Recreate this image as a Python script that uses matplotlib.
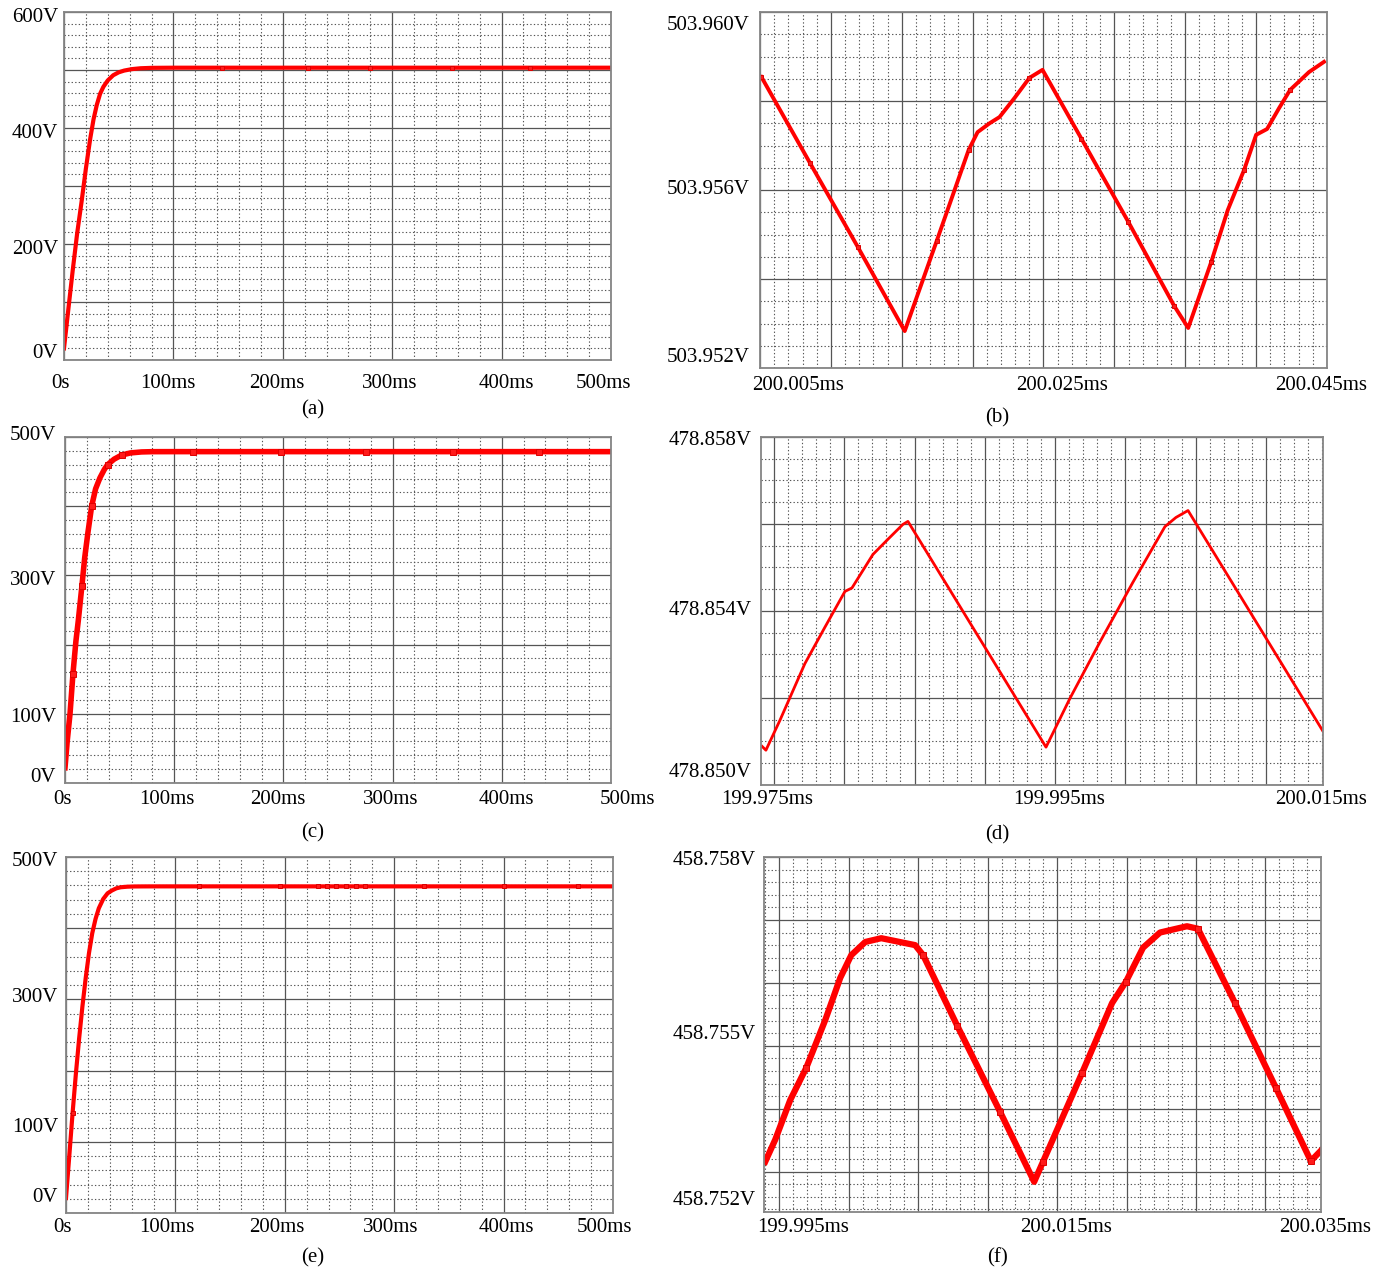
import matplotlib
matplotlib.use("Agg")
import matplotlib.pyplot as plt
import matplotlib.transforms as mtrans
from matplotlib.ticker import MultipleLocator

plt.rcParams['font.family'] = ['Liberation Serif', 'DejaVu Serif']

W, H = 1373, 1269

# ---- (a) start-up, 0..500 ms ----
a_t = [0, 4, 8, 12, 16, 20, 24, 27, 30, 33, 36, 40, 45, 50, 55, 62, 70, 80, 100,
       144, 223, 280, 355, 426, 500]
a_v = [20, 88, 155, 218, 272, 330, 382, 415, 440, 459, 471, 482, 491, 496, 499, 501.5,
       503, 503.7, 503.96, 503.96, 503.96, 503.96, 503.96, 503.96, 503.96]
a_mark = [144, 223, 280, 355, 426]

# ---- (b) ripple zoom ----
b_t = [200.0051, 200.00852, 200.0119, 200.01521, 200.01746, 200.01972, 200.02035,
       200.0212, 200.0219, 200.02296, 200.02401, 200.02493, 200.02768, 200.03099,
       200.03423, 200.03521, 200.03683, 200.0380, 200.03915, 200.0400, 200.04077,
       200.04162, 200.0424, 200.04373, 200.04479]
b_v = [503.95854, 503.95661, 503.95472, 503.95283, 503.95485, 503.95690, 503.95730,
       503.95750, 503.95764, 503.95807, 503.95852, 503.95870, 503.95715, 503.95528,
       503.95339, 503.95290, 503.95438, 503.95555, 503.95645, 503.95724, 503.95737,
       503.95784, 503.95825, 503.95865, 503.95888]
b_mark = [200.0051, 200.00852, 200.0119, 200.01746, 200.01972, 200.02401, 200.02768,
          200.03099, 200.03423, 200.03683, 200.03915, 200.0424]

# ---- (c) start-up ----
c_t = [0, 2, 4.6, 7.3, 10, 12.2, 15.5, 18, 21, 24.4, 28, 32, 36, 39, 45, 52, 60, 70,
       80, 100, 117, 197.5, 276, 355, 434, 500]
c_v = [22, 60, 100, 158, 205, 235, 285, 325, 362, 400, 425, 441, 453, 460, 468, 474,
       477, 478.4, 478.8, 478.85, 478.85, 478.85, 478.85, 478.85, 478.85, 478.85]
c_mark = [7.3, 15.5, 24.4, 39, 52, 117, 197.5, 276, 355, 434]

# ---- (d) ripple zoom ----
d_t = [199.97415, 199.97443, 199.97543, 199.97720, 199.97863, 199.98005, 199.98055,
       199.98204, 199.98311, 199.98417, 199.98453, 199.99435, 199.99605, 199.99819,
       200.00053, 200.00281, 200.00359, 200.00445, 200.01406]
d_v = [478.85089, 478.85080, 478.85149, 478.85279, 478.85363, 478.85445, 478.85453,
       478.85530, 478.85565, 478.85599, 478.85606, 478.85087, 478.85199, 478.85329,
       478.85466, 478.85594, 478.85615, 478.85631, 478.85123]

# ---- (e) start-up ----
e_t = [0, 3, 6, 9, 12, 15, 18, 21, 24, 27, 30, 34, 38, 42, 46, 50, 56, 62, 70, 80, 100,
       122, 196, 230, 239, 247, 256, 265, 273, 327, 400, 468, 500]
e_v = [21, 80, 140, 195, 245, 290, 330, 365, 393, 413, 428, 441, 449, 453, 456, 457.5,
       458.3, 458.6, 458.7, 458.74, 458.75, 458.75, 458.75, 458.75, 458.75, 458.75,
       458.75, 458.75, 458.75, 458.75, 458.75, 458.75, 458.75]
e_mark = [6, 122, 196, 230, 239, 247, 256, 265, 273, 327, 400, 468]

# ---- (f) ripple zoom ----
f_t = [199.99399, 199.99471, 199.99579, 199.99694, 199.99831, 199.99939, 200.00018,
       200.00119, 200.00234, 200.00478, 200.00536, 200.00781, 200.01090, 200.01335,
       200.01399, 200.01680, 200.01896, 200.01996, 200.02119, 200.02241, 200.02435,
       200.02514, 200.02781, 200.03076, 200.03327, 200.03406]
f_v = [458.75316, 458.75351, 458.75414, 458.75465, 458.75541, 458.75608, 458.75644,
       458.75665, 458.75671, 458.75660, 458.75644, 458.75532, 458.75395, 458.75284,
       458.75316, 458.75457, 458.75568, 458.75602, 458.75656, 458.75680, 458.75690,
       458.75686, 458.75568, 458.75433, 458.75317, 458.75335]
f_mark = [199.99694, 200.00536, 200.00781, 200.01090, 200.01399, 200.01680, 200.01996,
          200.02514, 200.02781, 200.03076, 200.03327]

ms_ticks = [0, 100, 200, 300, 400, 500]
ms_labels = ['0s', '100ms', '200ms', '300ms', '400ms', '500ms']

panels = [
    dict(t=a_t, v=a_v, mark=a_mark, cap='(a)', rect=(64, 12, 611, 360), lw=3.0,
         xlim=(0, 500), ylim=(0, 600), xmaj=100, xmin=20, ymaj=100, ymin=20,
         xt=ms_ticks, xl=ms_labels, xdx=[-4, -6, -6, -3, 5, -8], xdy=23,
         yt=[0, 200, 400, 600], yl=['0V', '200V', '400V', '600V'], ydy=[7, -6, -5, -6], ypad=6),
    dict(t=b_t, v=b_v, mark=b_mark, cap='(b)', rect=(760, 12, 1327, 368), lw=2.8,
         xlim=(200.005, 200.045), ylim=(503.952, 503.960), xmaj=0.005, xmin=0.001,
         ymaj=0.002, ymin=0.0005,
         xt=[200.005, 200.025, 200.045], xl=['200.005ms', '200.025ms', '200.045ms'],
         xdx=[38, 19, -6], xdy=18,
         yt=[503.952, 503.956, 503.960], yl=['503.952V', '503.956V', '503.960V'],
         ydy=[11, 0, -14], ypad=10),
    dict(t=c_t, v=c_v, mark=c_mark, cap='(c)', rect=(65, 437, 611, 783), lw=4.0,
         xlim=(0, 500), ylim=(0, 500), xmaj=100, xmin=20, ymaj=100, ymin=20,
         xt=ms_ticks, xl=ms_labels, xdx=[-3, -7, -6, -2, 5, 16], xdy=16,
         yt=[0, 100, 300, 500], yl=['0V', '100V', '300V', '500V'], ydy=[6, -4, -5, 1], ypad=9),
    dict(t=d_t, v=d_v, mark=[], cap='(d)', rect=(761, 437, 1323, 785), lw=2.0,
         xlim=(199.97408, 200.01405), ylim=(478.850, 478.858), xmaj=0.005, xmin=0.001,
         ymaj=0.002, ymin=0.0005,
         xt=[199.975, 199.995, 200.015], xl=['199.975ms', '199.995ms', '200.015ms'],
         xdx=[-7, 4, -15], xdy=15,
         yt=[478.850, 478.854, 478.858], yl=['478.850V', '478.854V', '478.858V'],
         ydy=[12, 0, -4], ypad=9),
    dict(t=e_t, v=e_v, mark=e_mark, cap='(e)', rect=(66, 857, 613, 1213), lw=3.0,
         xlim=(0, 500), ylim=(0, 500), xmaj=100, xmin=20, ymaj=100, ymin=20,
         xt=ms_ticks, xl=ms_labels, xdx=[-3, -9, -8, -4, 3, -9], xdy=15,
         yt=[0, 100, 300, 500], yl=['0V', '100V', '300V', '500V'], ydy=[15, 14, 2, -5], ypad=8),
    dict(t=f_t, v=f_v, mark=f_mark, cap='(f)', rect=(764, 857, 1321, 1212), lw=4.5,
         xlim=(199.9939, 200.0340), ylim=(458.75236, 458.758), xmaj=0.005, xmin=0.001,
         ymaj=0.001, ymin=0.0002,
         xt=[199.995, 200.015, 200.035], xl=['199.995ms', '200.015ms', '200.035ms'],
         xdx=[24, 9, -10], xdy=16,
         yt=[458.75236, 458.755, 458.758], yl=['458.752V', '458.755V', '458.758V'],
         ydy=[12, 11, -3], ypad=8),
]

fig = plt.figure(figsize=(W / 100, H / 100), dpi=100)

for p in panels:
    l, t, r, b = p['rect']
    ax = fig.add_axes([l / W, 1 - b / H, (r - l) / W, (b - t) / H])
    ax.set_xlim(*p['xlim'])
    ax.set_ylim(*p['ylim'])
    ax.xaxis.set_major_locator(MultipleLocator(p['xmaj']))
    ax.xaxis.set_minor_locator(MultipleLocator(p['xmin']))
    ax.yaxis.set_major_locator(MultipleLocator(p['ymaj']))
    ax.yaxis.set_minor_locator(MultipleLocator(p['ymin']))
    ax.grid(which='major', color='#555555', linewidth=0.9, linestyle='-')
    ax.grid(which='minor', color='#555555', linewidth=0.8, linestyle=(0, (1.2, 2.0)))
    ax.tick_params(which='both', length=0, labelbottom=False, labelleft=False)
    ax.set_axisbelow(True)
    for s in ax.spines.values():
        s.set_color('#858585')
        s.set_linewidth(1.3)

    ax.plot(p['t'], p['v'], color='#ff0000', linewidth=p['lw'], solid_joinstyle='round')
    if p['mark']:
        idx = [p['t'].index(m) for m in p['mark']]
        ax.plot(p['t'], p['v'], linestyle='None', marker='s', markersize=p['lw'] + 0.5,
                markevery=idx, markerfacecolor='#ff1a1a', markeredgecolor='#dd0000',
                markeredgewidth=0.7)

    xtr = mtrans.blended_transform_factory(ax.transData, ax.transAxes)
    for val, txt, dx in zip(p['xt'], p['xl'], p['xdx']):
        ax.annotate(txt, xy=(val, 0), xycoords=xtr, xytext=(dx, -p['xdy']),
                    textcoords='offset pixels', ha='center', va='center',
                    fontsize=15, annotation_clip=False)
    ytr = mtrans.blended_transform_factory(ax.transAxes, ax.transData)
    for val, txt, dy in zip(p['yt'], p['yl'], p['ydy']):
        ax.annotate(txt, xy=(0, val), xycoords=ytr, xytext=(-p['ypad'], dy),
                    textcoords='offset pixels', ha='right', va='center',
                    fontsize=15, annotation_clip=False)

    cx = 313 if l < 400 else 997
    cy = b + 50 if b < 1000 else 1258
    fig.text(cx / W, 1 - cy / H, p['cap'], ha='center', va='center', fontsize=15)

fig.savefig('out.png', dpi=100)
